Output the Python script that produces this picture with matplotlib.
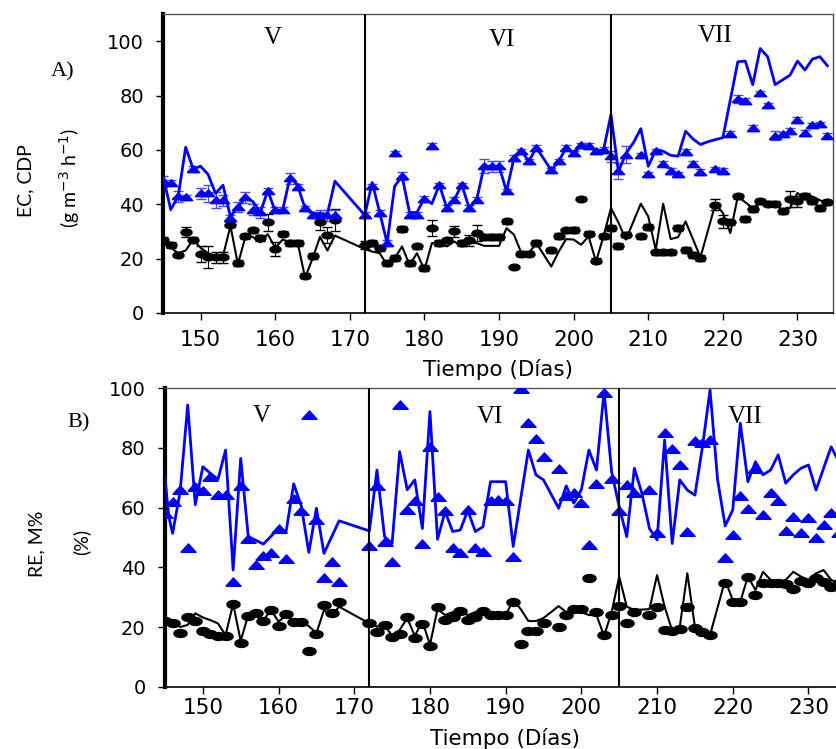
import numpy as np
import matplotlib
matplotlib.use("Agg")
import matplotlib.pyplot as plt

# --- Data (panel A: EC / CDP, g m-3 h-1) ---
a_blue_line_days = [145, 146, 147, 148, 149, 150, 151, 152, 153, 154, 155, 156, 157, 158, 159, 160, 161, 162, 163, 164,
                    165, 166, 167, 168, 172, 173, 174, 175, 176, 177, 178, 179, 180, 181, 182, 183, 184, 185, 186, 187,
                    188, 189, 190, 191, 192, 193, 194, 195, 196, 197, 198, 199, 200, 201, 202, 203, 204, 205, 206, 207,
                    208, 209, 210, 211, 212, 213, 214, 215, 216, 217, 218, 219, 220, 222, 223, 224, 225, 226, 227, 229,
                    230, 231, 232, 233, 234]
a_blue_line_vals = [50, 38, 43, 61, 53, 54, 51, 44, 47, 35.5, 39, 42.5, 41, 37, 45, 37.5, 38, 50, 47, 38.5,
                    36.5, 36.5, 36.5, 48.5, 36, 48, 37, 25.7, 46.6, 50.3, 37, 37, 42.3, 40.2, 47.2, 38.6, 41.7, 47.2, 38.6, 41.7,
                    54, 54, 54, 44.8, 57, 59.5, 55.8, 60.8, 56.7, 52.5, 55.8, 60.8, 58.7, 61.7, 61.4, 59.5, 60, 73, 52, 58.7,
                    62.6, 67.8, 54, 60, 59.5, 58, 57.7, 66.9, 64, 62, 63, 63.8, 64.5, 92.4, 92.7, 84, 97.3, 94.3, 84, 87.5,
                    92.7, 89.4, 93.4, 94.3, 91]

a_tri_days = [145, 146, 147, 148, 149, 150, 151, 152, 153, 154, 155, 156, 157, 158, 159, 160, 161, 162, 163, 164,
              165, 166, 167, 168, 172, 173, 174, 175, 176, 177, 178, 179, 180, 181, 182, 183, 184, 185, 186, 187,
              188, 189, 190, 191, 192, 193, 194, 195, 197, 198, 199, 200, 201, 202, 203, 204, 205, 206, 207, 209,
              210, 211, 212, 213, 214, 215, 216, 217, 219, 220, 221, 222, 223, 224, 225, 226, 227, 228, 229, 230,
              231, 232, 233, 234]
a_tri_vals = [48.5, 48, 43, 42.5, 53, 44, 44, 41.5, 41.5, 35, 39, 42.5, 38, 37, 45, 38, 38, 49.5, 46.5, 38.5,
              36, 36, 36, 36, 36, 46.6, 36.8, 25.7, 58.7, 50.3, 36, 36, 42, 61.4, 47, 38.6, 41.7, 47, 38.6, 41.7,
              54, 54, 54, 44.8, 57, 59.5, 55.8, 60.8, 52.5, 55.8, 60.8, 58.7, 61.7, 61.4, 59.5, 60, 57.7, 52.2, 58.3, 58,
              51, 59.5, 55, 52.2, 51, 59.2, 55, 51.8, 52.8, 52.2, 66, 78.8, 78, 68.1, 80.8, 76.4, 65.3, 65.7, 66.9, 71,
              66.3, 69, 69.4, 65.3]
a_tri_err = [2, 1, 2, 1, 1, 2, 3, 3, 2, 1, 2, 2, 2, 2, 1, 1, 1, 2, 1, 1,
             1, 2, 2, 2, 1, 1, 1, 1, 1, 1.5, 1, 1, 1, 1, 1, 1, 1, 1, 1, 1,
             2.5, 2, 2, 1, 1, 1, 1, 1, 1, 1, 1, 1, 1, 1, 1, 1, 2, 3, 3, 1,
             1, 1, 1, 1, 1, 1, 1, 1, 1, 1, 1, 1.5, 1, 1, 1, 1, 1.5, 1, 1, 1,
             1, 1, 1, 1]

a_black_line_days = [145, 146, 147, 148, 149, 150, 151, 152, 153, 154, 155, 156, 157, 158, 159, 160, 161, 162, 163, 164,
                     165, 166, 167, 168, 172, 173, 174, 175, 176, 177, 178, 179, 180, 181, 182, 183, 184, 185, 186, 187,
                     188, 189, 190, 191, 192, 193, 194, 195, 196, 197, 198, 199, 200, 201, 202, 203, 204, 205, 206, 207,
                     209, 210, 211, 212, 213, 214, 215, 217, 219, 220, 221, 222, 224, 225, 226, 227, 228, 229, 230, 231,
                     232, 233, 234]
a_black_line_vals = [26, 24, 22, 23, 27, 24, 22, 21, 21, 32, 18, 28, 28, 26, 29, 24, 27, 26, 26, 13,
                     20, 28, 23, 28.5, 23.5, 22.6, 22, 17.7, 20, 24.5, 17.7, 22, 15.9, 25.7, 25.7, 24.5, 26.3, 24.5, 25.7, 25.7,
                     24.7, 24.7, 24.7, 31.2, 28.8, 22, 22, 25.7, 21.4, 17.1, 22.6, 27.2, 27, 25.1, 28.2, 18.9, 28.2, 38.6, 33.3, 27,
                     40.2, 35.5, 23.2, 40.2, 27.2, 27.9, 33.7, 20.5, 40.2, 36.8, 29.4, 42.9, 38.6, 40.5, 40.2, 39.9, 38, 38.6, 44.2, 41.7,
                     42.9, 41.5, 40.2]

a_dot_days = [145, 146, 147, 148, 149, 150, 151, 152, 153, 154, 155, 156, 157, 158, 159, 160, 161, 162, 163, 164,
              165, 166, 167, 168, 172, 173, 174, 175, 176, 177, 178, 179, 180, 181, 182, 183, 184, 185, 186, 187,
              188, 189, 190, 191, 192, 193, 194, 195, 197, 198, 199, 200, 201, 202, 203, 204, 205, 206, 207, 209,
              210, 211, 212, 213, 214, 215, 216, 217, 219, 220, 221, 222, 223, 224, 225, 226, 227, 228, 229, 230,
              231, 232, 233, 234]
a_dot_vals = [27, 25, 21.4, 29.8, 27, 21.7, 20.5, 20.5, 20.5, 32.5, 18.4, 28.2, 30.4, 27.6, 33.3, 23.6, 29.2, 25.8, 25.8, 13.7,
              21, 33.5, 28.6, 34.2, 25, 25.7, 23.9, 18.3, 20.2, 30.9, 18.3, 24.5, 16.5, 31.2, 25.7, 26.7, 30, 25.7, 26.7, 29.4,
              27.9, 27.9, 27.9, 33.7, 16.9, 21.8, 21.8, 25.7, 23, 28.4, 30.4, 30.6, 42, 29.2, 19.3, 28.2, 31.2, 24.7, 28.8, 28.2,
              31.6, 22.3, 22.3, 22.3, 31.2, 23.2, 21.4, 20.2, 39.9, 33.7, 33.3, 42.9, 34.6, 38.3, 41.1, 40.2, 40.2, 37.4, 41.9, 41.1,
              43.2, 41.1, 38.6, 40.7]
a_dot_err = [1, 1, 0.5, 2, 1, 3, 4, 2, 2, 1, 1, 1, 1, 1, 3, 2.5, 1, 1, 1, 1,
             1, 3, 3, 4, 1.5, 1, 1, 1, 1, 1, 1, 1, 1, 3, 1, 1, 2, 1, 2, 3,
             1, 1, 1, 1, 0.5, 1, 1, 1, 1, 1, 1, 1, 0.5, 1, 1, 1, 1, 1, 1, 1,
             1, 1, 1, 1, 1, 1, 1, 1, 2, 2.5, 1, 1, 1, 1, 1, 1, 1, 1, 3, 2,
             1, 1, 1, 1]

# --- Data (panel B: RE / M%, %) ---
b_blue_line_days = [145, 145.5, 146, 147, 148, 149, 150, 151, 152, 153, 154, 155, 156, 158, 160, 161, 162, 163, 164, 165,
                    166, 168, 172, 173, 174, 175, 176, 177, 178, 179, 180, 181, 182, 183, 184, 185, 186, 187, 188, 189,
                    190, 191, 193, 194, 195, 197, 198, 199, 200, 201, 202, 203, 204, 205, 206, 207, 208, 209, 210, 211,
                    212, 213, 214, 215, 216, 217, 218, 219, 220, 221, 222, 223, 224, 225, 226, 227, 228, 229, 230, 231,
                    232, 233, 234]
b_blue_line_vals = [70, 57, 51.4, 65.4, 94.4, 61, 73.7, 71.5, 69.5, 79.3, 39.1, 76.5, 50.3, 47.8, 53, 52, 68, 60.6, 45, 59.8,
                    44.7, 55.6, 52.2, 72.6, 50.3, 48, 78.8, 66, 69.3, 53, 92.2, 49.4, 58.7, 52, 52.5, 59, 52, 53.6, 68.7, 68.7,
                    68.7, 47, 79.3, 71, 69.3, 59.8, 67.3, 61.5, 66, 79.3, 72.6, 99, 72, 60.3, 50.3, 73.2, 64.8, 53, 49.2, 82.7,
                    48, 69.3, 65.9, 64.2, 80.4, 99.4, 69.3, 53.9, 59.2, 88.3, 68.7, 75.4, 71, 72.6, 77.7, 68.2, 71, 73.2, 74.3, 65.9,
                    73.2, 80.4, 75.4]

b_tri_days = [145, 146, 147, 148, 149, 150, 151, 152, 153, 154, 155, 156, 157, 158, 159, 160, 161, 162, 163, 164,
              165, 166, 167, 168, 172, 173, 174, 175, 176, 177, 178, 179, 180, 181, 182, 183, 184, 185, 186, 187,
              188, 189, 190, 191, 192, 193, 194, 195, 197, 198, 199, 200, 201, 202, 203, 204, 205, 206, 207, 209,
              210, 211, 212, 213, 214, 215, 216, 217, 219, 220, 221, 222, 223, 224, 225, 226, 227, 228, 229, 230,
              231, 232, 233, 234]
b_tri_vals = [58, 62, 66, 46.4, 67, 65.7, 70.4, 64.2, 64.2, 35.2, 67.3, 49.4, 40.8, 43.8, 44.9, 53, 42.7, 62.8, 59, 91,
              56, 36.3, 41.9, 35.2, 47, 67.3, 48.6, 41.9, 94.4, 59.2, 62.3, 47.8, 80.4, 63.5, 59, 46.4, 44.9, 59.2, 46.4, 45.3,
              62.3, 62.6, 62.3, 43.4, 99.7, 88.5, 82.9, 76.9, 72.8, 63.9, 64.8, 61.7, 47.5, 67.9, 98.5, 69.5, 59, 67.6, 65, 66,
              51.4, 84.9, 79.6, 74.3, 52, 82.5, 81.8, 82.7, 43, 50.8, 63.9, 59.4, 72.8, 57.5, 64.8, 62.3, 52.3, 56.8, 51.6, 56.4,
              50, 54.2, 58.3, 51.6]

b_black_line_days = [145, 146, 147, 148, 149, 150, 151, 152, 153, 154, 155, 156, 157, 158, 159, 160, 161, 162, 163, 164,
                     165, 166, 167, 168, 172, 173, 174, 175, 176, 177, 178, 179, 180, 181, 182, 183, 184, 185, 186, 187,
                     188, 189, 190, 191, 192, 193, 194, 195, 196, 197, 198, 199, 200, 201, 202, 203, 204, 205, 206, 207,
                     209, 210, 211, 212, 213, 214, 215, 216, 217, 219, 220, 221, 222, 223, 224, 225, 226, 227, 228, 229,
                     230, 231, 232, 233, 234]
b_black_line_vals = [22.6, 21.8, 20, 20.7, 24.6, 23.2, 22.3, 21.2, 17.3, 27.7, 15.4, 24, 24.6, 22.3, 25.7, 21.8, 24, 21.8, 21.8, 20.3,
                     17.9, 25.7, 23.7, 26.8, 21.2, 20.1, 21, 16.8, 19, 23, 17, 22, 14, 26, 24, 25, 25, 24, 25, 26,
                     25, 24, 24, 29, 26, 22, 22, 23, 25, 27, 25, 26, 25, 24, 24, 17, 25, 36.9, 26.8, 25.7,
                     26, 37.4, 26.8, 18.8, 20, 38, 20.1, 18.5, 17.3, 35.8, 29, 28.5, 36.9, 32.4, 38.5, 35.8, 35.2, 35.8, 38.5, 36.9,
                     35.8, 38, 39.1, 35.8, 34.6]

b_dot_days = a_dot_days
b_dot_vals = [22.1, 21.5, 17.9, 23.2, 22.1, 18.8, 17.7, 17, 17, 27.7, 14.7, 23.7, 24.6, 22.1, 25.7, 20.3, 24.4, 21.8, 21.8, 12.1,
              17.7, 27.4, 24.6, 28.5, 21.2, 18.4, 20.7, 16.5, 17.7, 23.2, 16.2, 21, 13.6, 26.8, 22.3, 23.2, 25.5, 22.3, 23.2, 25.5,
              24, 24, 24, 28.5, 14.3, 18.8, 18.8, 21.2, 20.1, 24, 25.9, 25.9, 36.5, 25.1, 17.3, 24, 27, 21.2, 25.1, 24,
              26.8, 19, 18.8, 19.2, 26.8, 19.6, 18.4, 17.3, 34.6, 28.5, 28.5, 36.6, 30.7, 34.6, 34.9, 34.6, 34.4, 32.6, 35.5, 34.9,
              36.3, 35.2, 33.5, 34.6]

stage_bounds = [172, 205]
stage_names = ["V", "VI", "VII"]
yticks = [0, 20, 40, 60, 80, 100]
xticks = [150, 160, 170, 180, 190, 200, 210, 220, 230]

# flattened markers (the original figure is stretched horizontally)
t = np.linspace(0, 2 * np.pi, 40)
ellipse = np.column_stack([np.cos(t), 0.6 * np.sin(t)])
flat_tri = [(-1, -0.5), (1, -0.5), (0, 0.6), (-1, -0.5)]

W, H = 836, 749
fig = plt.figure(figsize=(W / 100, H / 100), dpi=100)


def px_ax(left, top, right, bottom):
    return [left / W, 1 - bottom / H, (right - left) / W, (bottom - top) / H]


axA = fig.add_axes(px_ax(163.3, 14, 833.3, 313))
axB = fig.add_axes(px_ax(165, 388.3, 165 + 89.8 * 7.57, 686.7))

# Panel A
axA.errorbar(a_dot_days, a_dot_vals, yerr=a_dot_err, fmt="none", ecolor="black", elinewidth=0.8, capsize=3.5, zorder=2)
axA.plot(a_dot_days, a_dot_vals, ls="none", marker=ellipse, ms=8, color="black", zorder=3)
axA.plot(a_black_line_days, a_black_line_vals, color="black", lw=1.5, zorder=4)
axA.errorbar(a_tri_days, a_tri_vals, yerr=a_tri_err, fmt="none", ecolor="#4a4aff", elinewidth=0.8, capsize=3.5, zorder=2)
axA.plot(a_tri_days, a_tri_vals, ls="none", marker=flat_tri, ms=9, color="#0000ff", zorder=3)
axA.plot(a_blue_line_days, a_blue_line_vals, color="#0000ff", lw=2, zorder=4)
axA.set_ylim(0, 110)

# Panel B
axB.plot(b_dot_days, b_dot_vals, ls="none", marker=ellipse, ms=9.5, color="black", zorder=3)
axB.plot(b_black_line_days, b_black_line_vals, color="black", lw=1.5, zorder=4)
axB.plot(b_tri_days, b_tri_vals, ls="none", marker=flat_tri, ms=11, color="#0000ff", zorder=3)
axB.plot(b_blue_line_days, b_blue_line_vals, color="#0000ff", lw=2, zorder=4)
axB.set_ylim(0, 100)

for ax, xpad, lab_y in ((axA, 7, -0.155), (axB, 3, -0.14)):
    ax.set_xlim(145, 234.8)
    ax.set_xticks(xticks)
    ax.set_yticks(yticks)
    ax.tick_params(axis="both", direction="out", length=5, width=1)
    ax.tick_params(axis="x", labelsize=15.5, pad=xpad)
    ax.tick_params(axis="y", labelsize=14, pad=9)
    for b in stage_bounds:
        ax.axvline(b, color="black", lw=1.5, zorder=5)
    ax.spines["left"].set_linewidth(3)
    ax.spines["bottom"].set_linewidth(1.2)
    ax.spines["top"].set_color("#555555")
    ax.spines["right"].set_color("#555555")
    ax.spines["top"].set_linewidth(1)
    ax.spines["right"].set_linewidth(1)
    ax.set_xlabel("Tiempo (Días)", fontsize=15.5)
    ax.xaxis.set_label_coords(0.5, lab_y)


def ftext(x, y, s, **kw):
    fig.text(x / W, 1 - y / H, s, ha="center", va="center", **kw)


serif = dict(family="Liberation Serif", fontsize=18)
for (x, y), s in zip([(273, 38), (502, 40), (715, 36)], stage_names):
    ftext(x, y, s, **serif)
for (x, y), s in zip([(262, 416), (490, 417), (745, 417)], stage_names):
    ftext(x, y, s, **serif)

ftext(63, 72, "A)", family="Liberation Serif", fontsize=16)
ftext(79, 423, "B)", family="Liberation Serif", fontsize=16)

lab = dict(family="Lato", fontsize=14, rotation=90)
ftext(26, 181, "EC, CDP", **lab)
ftext(70, 178, r"(g m$^{-3}$ h$^{-1}$)", **lab)
ftext(37, 544, "RE, M%", **lab)
ftext(81, 542, "(%)", **lab)

plt.savefig("out.png", dpi=100)
